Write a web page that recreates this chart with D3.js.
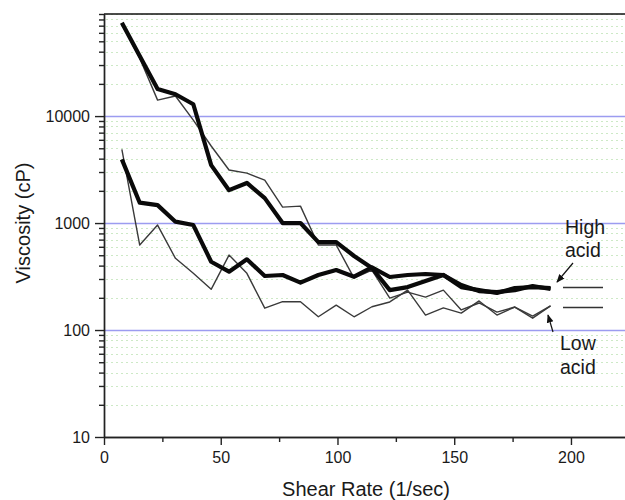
<!DOCTYPE html>
<html>
<head>
<meta charset="utf-8">
<script src="https://cdn.jsdelivr.net/npm/d3@7"></script>
<style>
  body { margin: 0; background: #fff; }
  text { font-family: "Liberation Sans", Arial, sans-serif; fill: #1a1a1a; }
</style>
</head>
<body>
<div id="chart"></div>
<script>
// Shear rate values (1/sec), same for every run
const shearRate = [7.65, 15.3, 22.95, 30.6, 38.25, 45.9, 53.55, 61.2, 68.85, 76.5,
  84.15, 91.8, 99.45, 107.1, 114.75, 122.4, 130.05, 137.7, 145.35, 153.0,
  160.65, 168.3, 175.95, 183.6, 191.25];

// Viscosity (cP) - high acid, two runs (thick lines)
const highAcid1 = [74500, 36400, 17900, 16000, 12900, 3480, 2030, 2370, 1710, 1000,
  1000, 664, 664, 492, 380, 236, 252, 287, 327, 252,
  236, 222, 247, 252, 247];
const highAcid2 = [3940, 1550, 1470, 1030, 958, 435, 351, 458, 320, 327,
  277, 327, 364, 315, 385, 313, 327, 334, 327, 263,
  231, 226, 236, 258, 242];

// Viscosity (cP) - low acid, two runs (thin lines)
const lowAcid1 = [72400, 34800, 14100, 15400, 9180, 5250, 3130, 2930, 2520, 1410,
  1440, 623, 623, 306, 364, 199, 226, 203, 236, 154,
  179, 147, 164, 129, 168];
const lowAcid2 = [4890, 623, 958, 468, 339, 240, 502, 339, 160, 184,
  184, 133, 171, 133, 165, 183, 236, 138, 161, 144,
  187, 138, 164, 135, 168];

// Tick values
const xTicks = [0, 50, 100, 150, 200];
const xMinorTicks = [25, 75, 125, 175, 225];
const yTicks = [10, 100, 1000, 10000];

const width = 625,
  height = 500;
const margin = { top: 14, left: 104, bottom: 63 };

const svg = d3
  .select("#chart")
  .append("svg")
  .attr("width", width)
  .attr("height", height);

// Scales
const x = d3.scaleLinear().domain([0, 224]).range([margin.left, 627]);
const y = d3
  .scaleLog()
  .domain([10, 90000])
  .range([height - margin.bottom, margin.top]);

// Minor log ticks (2..9 in every decade)
const yMinor = [];
[10, 100, 1000, 10000].forEach((d) => {
  for (let k = 2; k <= 9; k++) yMinor.push(d * k);
});

// Dotted minor grid
svg
  .append("g")
  .selectAll("line")
  .data(yMinor)
  .enter()
  .append("line")
  .attr("x1", margin.left + 2)
  .attr("x2", width)
  .attr("y1", (d) => Math.round(y(d)) + 0.5)
  .attr("y2", (d) => Math.round(y(d)) + 0.5)
  .attr("stroke", "#cde9c6")
  .attr("stroke-dasharray", "2,3")
  .attr("stroke-width", 1);

// Major grid (blue)
svg
  .append("g")
  .selectAll("line")
  .data(yTicks.slice(1))
  .enter()
  .append("line")
  .attr("x1", margin.left)
  .attr("x2", width)
  .attr("y1", (d) => Math.round(y(d)) + 0.5)
  .attr("y2", (d) => Math.round(y(d)) + 0.5)
  .attr("stroke", "#9c9cf0")
  .attr("stroke-width", 1.3);

// Axes
const yAxis = d3
  .axisLeft(y)
  .tickValues(yTicks)
  .tickFormat(d3.format("d"))
  .tickSizeInner(9)
  .tickSizeOuter(0)
  .tickPadding(5);

const yAxisMinor = d3
  .axisLeft(y)
  .tickValues(yMinor)
  .tickFormat("")
  .tickSizeInner(5)
  .tickSizeOuter(0);

const xAxis = d3
  .axisBottom(x)
  .tickValues(xTicks)
  .tickSizeInner(8)
  .tickSizeOuter(0)
  .tickPadding(7);

const xAxisMinor = d3
  .axisBottom(x)
  .tickValues(xMinorTicks)
  .tickFormat("")
  .tickSizeInner(5)
  .tickSizeOuter(0);

svg
  .append("g")
  .attr("transform", `translate(${margin.left},0)`)
  .call(yAxisMinor);
svg
  .append("g")
  .attr("transform", `translate(${margin.left},0)`)
  .call(yAxis);

svg
  .append("g")
  .attr("transform", `translate(0,${height - margin.bottom})`)
  .call(xAxisMinor);
svg
  .append("g")
  .attr("transform", `translate(0,${height - margin.bottom})`)
  .call(xAxis);

svg.selectAll(".domain, .tick line").attr("stroke", "#222").attr("stroke-width", 1.4);
svg.selectAll(".tick text").style("font-size", "16px").style("fill", "#1a1a1a");

// Top frame line
svg
  .append("line")
  .attr("x1", margin.left)
  .attr("x2", width)
  .attr("y1", margin.top)
  .attr("y2", margin.top)
  .attr("stroke", "#111")
  .attr("stroke-width", 1.6);

// Axis titles
svg
  .append("text")
  .attr("x", 366)
  .attr("y", 496)
  .attr("text-anchor", "middle")
  .style("font-size", "20px")
  .text("Shear Rate (1/sec)");

svg
  .append("text")
  .attr("transform", "translate(30,223) rotate(-90)")
  .attr("text-anchor", "middle")
  .style("font-size", "20px")
  .text("Viscosity (cP)");

// Lines
const line = d3
  .line()
  .x((d) => x(d[0]))
  .y((d) => y(d[1]));

const series = [
  { values: lowAcid1, width: 1.4, color: "#3a3a3a" },
  { values: lowAcid2, width: 1.4, color: "#3a3a3a" },
  { values: highAcid1, width: 4.2, color: "#0a0a0a" },
  { values: highAcid2, width: 4.2, color: "#0a0a0a" },
];

series.forEach((s) => {
  svg
    .append("path")
    .datum(shearRate.map((r, i) => [r, s.values[i]]))
    .attr("d", line)
    .attr("fill", "none")
    .attr("stroke", s.color)
    .attr("stroke-width", s.width)
    .attr("stroke-linejoin", "round");
});

// Legend-like annotation on the right
const defs = svg.append("defs");
defs
  .append("marker")
  .attr("id", "arrow")
  .attr("viewBox", "0 0 10 10")
  .attr("refX", 9)
  .attr("refY", 5)
  .attr("markerWidth", 7)
  .attr("markerHeight", 7)
  .attr("orient", "auto")
  .append("path")
  .attr("d", "M0,1 L10,5 L0,9 Z")
  .attr("fill", "#111");

svg.append("line")
  .attr("x1", 563).attr("x2", 603).attr("y1", 287.5).attr("y2", 287.5)
  .attr("stroke", "#333").attr("stroke-width", 1.3);
svg.append("line")
  .attr("x1", 563).attr("x2", 603).attr("y1", 307.5).attr("y2", 307.5)
  .attr("stroke", "#333").attr("stroke-width", 1.3);

svg.append("line")
  .attr("x1", 573).attr("y1", 263).attr("x2", 557).attr("y2", 282)
  .attr("stroke", "#111").attr("stroke-width", 1.2)
  .attr("marker-end", "url(#arrow)");
svg.append("line")
  .attr("x1", 553).attr("y1", 332).attr("x2", 548).attr("y2", 315)
  .attr("stroke", "#111").attr("stroke-width", 1.2)
  .attr("marker-end", "url(#arrow)");

const notes = [
  { t: "High", x: 565, y: 234 },
  { t: "acid", x: 565, y: 257 },
  { t: "Low", x: 560, y: 350 },
  { t: "acid", x: 560, y: 374 },
];
svg
  .selectAll(".note")
  .data(notes)
  .enter()
  .append("text")
  .attr("class", "note")
  .attr("x", (d) => d.x)
  .attr("y", (d) => d.y)
  .style("font-size", "19.5px")
  .text((d) => d.t);
</script>
</body>
</html>
